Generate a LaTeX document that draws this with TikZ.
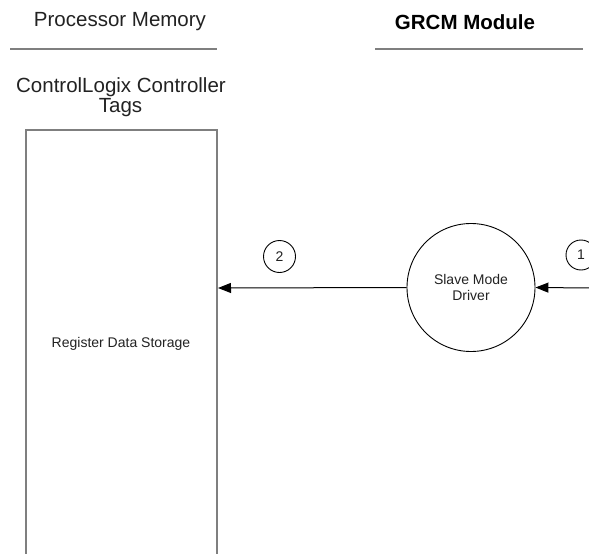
\documentclass[tikz,border=0pt]{standalone}
\usepackage{fontspec}
\setmainfont{Liberation Sans}
\usetikzlibrary{arrows.meta}
\definecolor{txt}{HTML}{222222}
\definecolor{boxgray}{HTML}{7F7F7F}
\tikzset{
  hdr/.style={font=\fontsize{20.5}{24}\selectfont, text=txt, anchor=base, inner sep=0pt},
  hdrbold/.style={font=\fontsize{20.5}{24}\selectfont\bfseries, text=black, anchor=base, inner sep=0pt},
  small/.style={font=\fontsize{14}{16}\selectfont, text=txt, anchor=base, inner sep=0pt},
  rule/.style={draw=boxgray, line width=1.5pt},
  store/.style={draw=boxgray, line width=2pt},
  proc/.style={circle, draw=black, line width=0.9pt, minimum size=128pt, inner sep=0pt,
    align=center, font=\fontsize{14}{16}\selectfont, text=txt},
  num/.style={circle, draw=black, line width=0.9pt, minimum size=32pt, inner sep=0pt,
    font=\fontsize{14}{16}\selectfont, text=txt},
  flow/.style={draw=black, line width=1pt, -{Triangle[length=13pt,width=10pt]}}
}
\begin{document}
\begin{tikzpicture}[x=1pt,y=-1pt]
\useasboundingbox (0,0) rectangle (589,554);
\clip (0,0) rectangle (589,554);
\fill[white] (0,0) rectangle (589,554);
% headers
\node[hdr] (pm) at (120,26) {Processor Memory};
\node[hdrbold] (gm) at (465,29) {GRCM Module};
\coordinate (pmL) at (10,49);
\coordinate (pmR) at (217,49);
\coordinate (gmL) at (375,49);
\coordinate (gmR) at (583,49);
\draw[rule] (pmL) -- (pmR);
\draw[rule] (gmL) -- (gmR);
% storage
\node[hdr] (clc) at (121,92) {ControlLogix Controller};
\node[hdr] (tags) at (120.5,112) {Tags};
\coordinate (stTL) at (26,129.5);
\coordinate (stBR) at (217,600);
\draw[store] (stTL) rectangle (stBR);
\node[small] (rds) at (121,347) {Register Data Storage};
\coordinate (stIn) at (218,288);
% driver
\node[proc] (drv) at (471,287.5) {Slave Mode\\Driver};
\coordinate (src) at (592,288);
\draw[flow] (drv.west) -- (stIn);
\draw[flow] (src) -- (drv.east);
% step numbers
\node[num] (n2) at (279.5,256.5) {2};
\node[num, minimum size=30pt] (n1) at (581,255) {1};
\end{tikzpicture}
\end{document}
